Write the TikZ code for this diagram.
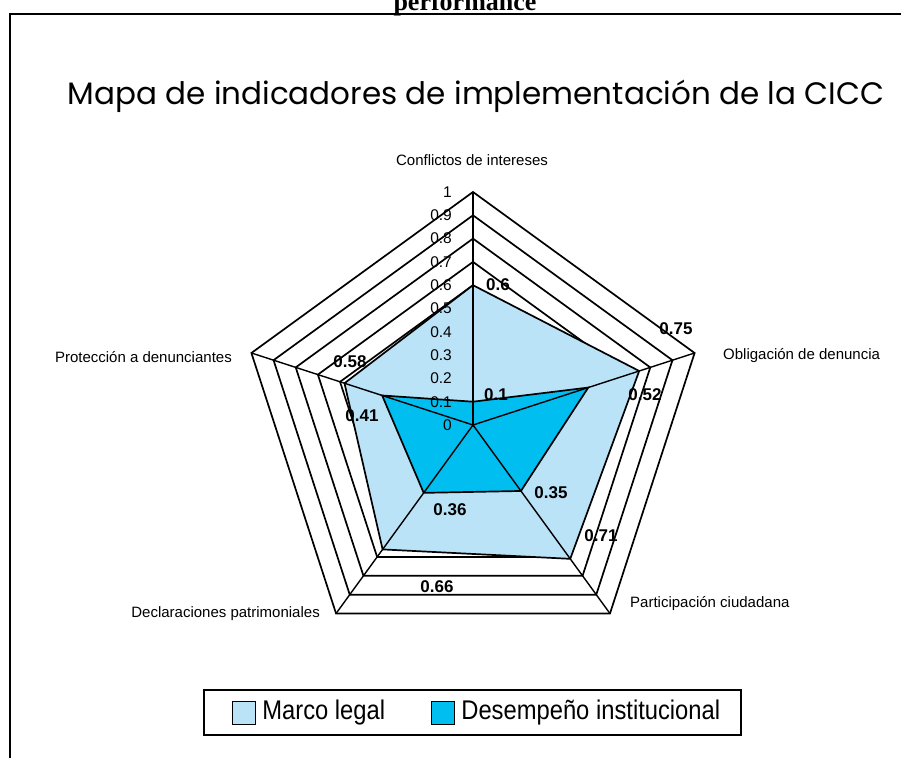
\documentclass[tikz,border=0pt]{standalone}
\usepackage{fontspec}
\setmainfont{Liberation Sans}
\newfontfamily\titlefont{Poppins}
\newfontfamily\narrowfont[FakeStretch=0.88]{Liberation Sans}
\newfontfamily\headfont{Liberation Serif}
\usepackage{tikz}
\usetikzlibrary{calc,positioning}
\definecolor{marco}{RGB}{187,227,247}
\definecolor{desempeno}{RGB}{0,190,240}
\tikzset{
  ring/.style={draw=black,line width=1.7pt,line join=miter},
  spoke/.style={draw=black,line width=1.4pt},
  cat/.style={font=\fontsize{15}{15}\selectfont,inner sep=0pt},
  val/.style={font=\fontsize{17}{17}\selectfont\bfseries,inner sep=0pt},
  tick/.style={font=\fontsize{15.5}{15.5}\selectfont,inner sep=0pt,anchor=east},
  swatch/.style={draw=black,line width=1.3pt,minimum size=23pt,inner sep=0pt},
  legtext/.style={font=\narrowfont\fontsize{27}{27}\selectfont,inner sep=0pt}
}

\begin{document}
\begin{tikzpicture}[x=1pt,y=1pt]
\useasboundingbox (0,0) rectangle (901,758);
\draw[line width=2.5pt] (10,0) -- (10,744) -- (901,744);
\node[font=\headfont\bfseries\fontsize{26}{26}\selectfont,anchor=base,inner sep=0pt] (head) at (465,747) {performance};
\node[font=\titlefont\fontsize{31}{31}\selectfont,inner sep=0pt] (title) at (476,662) {Mapa de indicadores de implementación de la CICC};

\begin{scope}[shift={(473,333)}]
\coordinate (c) at (0,0);
\foreach \a/\n in {90/conf,18/obli,-54/part,-126/decl,162/prot}
  \coordinate (\n) at (\a:233);
\foreach \k in {1,...,10}
  \draw[ring] (90:\k*23.3) -- (18:\k*23.3) -- (-54:\k*23.3) -- (-126:\k*23.3) -- (162:\k*23.3) -- cycle;
\filldraw[ring,fill=marco] (90:0.6*233) -- (18:0.75*233) -- (-54:0.71*233) -- (-126:0.66*233) -- (162:0.58*233) -- cycle;
\filldraw[ring,fill=desempeno] (90:0.1*233) -- (18:0.52*233) -- (-54:0.35*233) -- (-126:0.36*233) -- (162:0.41*233) -- cycle;
\foreach \n in {conf,obli,part,decl,prot}
  \draw[spoke] (c) -- (\n);
\foreach \k/\t in {0/0,1/0.1,2/0.2,3/0.3,4/0.4,5/0.5,6/0.6,7/0.7,8/0.8,9/0.9,10/1}
  \node[tick] (t\k) at (-21,\k*23.3) {\t};
\end{scope}

\node[cat] (lconf) at (472,598) {Conflictos de intereses};
\node[cat,anchor=west] (lobli) at (723,402) {Obligación de denuncia};
\node[cat,anchor=west] (lpart) at (630,154) {Participación ciudadana};
\node[cat,anchor=east] (ldecl) at (320,144) {Declaraciones patrimoniales};
\node[cat,anchor=east] (lprot) at (232,401) {Protección a denunciantes};

\node[val] (m1) at (498,473) {0.6};
\node[val] (m2) at (676,429) {0.75};
\node[val] (m3) at (601,222) {0.71};
\node[val] (m4) at (437,171) {0.66};
\node[val] (m5) at (350,396) {0.58};
\node[val] (d1) at (496,363) {0.1};
\node[val] (d2) at (645,363) {0.52};
\node[val] (d3) at (551,265) {0.35};
\node[val] (d4) at (450,248) {0.36};
\node[val] (d5) at (362,342) {0.41};

\draw[line width=1.3pt] (204,23) rectangle (741,68);
\node[swatch,fill=marco] (smarco) at (244,45) {};
\node[legtext,right=6pt of smarco] (tmarco) {Marco legal};
\node[swatch,fill=desempeno] (sdes) at (443,45) {};
\node[legtext,right=6pt of sdes] (tdes) {Desempeño institucional};
\end{tikzpicture}
\end{document}
